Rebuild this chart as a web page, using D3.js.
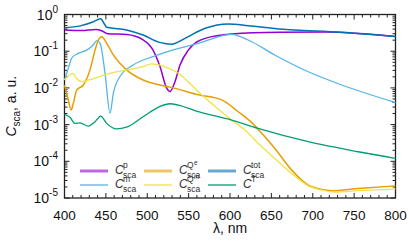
<!DOCTYPE html>
<html>
<head>
<meta charset="utf-8">
<script src="https://cdn.jsdelivr.net/npm/d3@7"></script>
<style>
  body { margin: 0; background: #fff; }
  svg { display: block; font-family: "Liberation Sans", Arial, sans-serif; }
</style>
</head>
<body>
<svg id="chart" width="409" height="245"></svg>
<script>
// wavelength (nm) and scattering cross sections
var lamP = [400, 420, 438, 445, 452, 475, 495, 507, 515.4, 523.5, 527.5, 533.5, 539.6, 549.6, 570, 602, 660, 715, 800];
var cP = [0.38, 0.365, 0.39, 0.36, 0.30, 0.285, 0.205, 0.107, 0.038, 0.0098, 0.0079, 0.0148, 0.042, 0.107, 0.224, 0.295, 0.327, 0.333, 0.251];

var lamM = [400, 404.6, 408.7, 416.7, 426.8, 435, 439, 443, 449, 455, 459, 467, 483, 507, 527.5, 561.7, 602, 622, 654, 694.6, 735, 800];
var cM = [0.0164, 0.034, 0.065, 0.087, 0.107, 0.15, 0.195, 0.164, 0.025, 0.00204, 0.0071, 0.0204, 0.042, 0.071, 0.102, 0.164, 0.288, 0.202, 0.079, 0.0275, 0.012, 0.004];

var lamQe = [400, 404.6, 408, 410.7, 414.7, 422.7, 430.8, 436.9, 440.9, 445, 451, 459, 475, 495, 515, 527.5, 561.7, 590, 610, 626, 640, 654, 674.6, 694.6, 714.8, 723, 755, 800];
var cQe = [0.012, 0.0047, 0.0025, 0.0038, 0.0087, 0.012, 0.031, 0.107, 0.202, 0.248, 0.164, 0.079, 0.031, 0.0164, 0.012, 0.0105, 0.0065, 0.0047, 0.00224, 0.00115, 0.000525, 0.000226, 0.0000575, 0.0000224, 0.0000166, 0.0000158, 0.0000182, 0.0000214];

var lamQm = [400, 410, 414.7, 420.8, 435, 455, 475, 495, 505, 521, 537.5, 561.7, 582, 602, 618, 634, 654, 674.6, 694.6, 714.8, 727, 755, 800];
var cQm = [0.0164, 0.025, 0.018, 0.0148, 0.018, 0.025, 0.031, 0.038, 0.045, 0.038, 0.025, 0.0079, 0.0031, 0.00133, 0.00071, 0.00031, 0.00012, 0.0000468, 0.0000214, 0.0000158, 0.0000145, 0.0000158, 0.0000174];

var lamTot = [400, 419, 435, 443.7, 448, 451, 475, 495, 515, 529.5, 545.6, 570, 598, 622, 660, 735, 800];
var cTot = [0.437, 0.49, 0.637, 0.769, 0.56, 0.447, 0.38, 0.275, 0.174, 0.155, 0.224, 0.42, 0.55, 0.495, 0.403, 0.327, 0.251];

var lamT = [400, 406.6, 412.7, 418.7, 428.8, 437, 443.7, 451, 463, 475, 495, 515, 527.5, 537.5, 561.7, 602, 634, 694.6, 755, 800];
var cT = [0.0019, 0.00158, 0.00108, 0.00112, 0.00091, 0.0012, 0.0017, 0.00108, 0.00076, 0.00085, 0.00164, 0.0031, 0.0037, 0.0034, 0.00224, 0.00133, 0.00079, 0.000343, 0.000182, 0.00012];

var xTicks = [400, 450, 500, 550, 600, 650, 700, 750, 800];
var yTicks = [1, 1e-1, 1e-2, 1e-3, 1e-4, 1e-5];

var series = [
    { lam: lamP, c: cP, color: '#9400d3', wide: true, sup: 'p', sub: 'sca' },
    { lam: lamM, c: cM, color: '#56b4e9', wide: false, sup: 'm', sub: 'sca' },
    { lam: lamQe, c: cQe, color: '#e69f00', wide: true, sup: 'Q', supsup: 'e', sub: 'sca' },
    { lam: lamQm, c: cQm, color: '#f0e442', wide: false, sup: 'Q', supsup: 'm', sub: 'sca' },
    { lam: lamTot, c: cTot, color: '#0072b2', wide: true, sup: 'tot', sub: 'sca' },
    { lam: lamT, c: cT, color: '#009e73', wide: false, sup: 'T', sub: '' }
];

var plotLeft = 64.5, plotRight = 395.5, plotTop = 14.5, plotBottom = 198;

var x = d3.scaleLinear().domain([400, 800]).range([plotLeft, plotRight]);
var y = d3.scaleLog().domain([1e-5, 1]).range([plotBottom, plotTop]);

var svg = d3.select('#chart');
var axisColor = '#222';

// minor + major ticks, all four sides, pointing inward
var g = svg.append('g').attr('stroke', axisColor).attr('stroke-width', 1);
d3.range(400, 801, 10).forEach(function(v) {
    var len = (v % 50 === 0) ? 5 : 3;
    g.append('line').attr('x1', x(v)).attr('x2', x(v)).attr('y1', plotBottom).attr('y2', plotBottom - len);
    g.append('line').attr('x1', x(v)).attr('x2', x(v)).attr('y1', plotTop).attr('y2', plotTop + len);
});
for (var e = -5; e < 0; e++) {
    for (var k = 1; k < 10; k++) {
        var v = k * Math.pow(10, e);
        var len = (k === 1) ? 5 : 3;
        g.append('line').attr('y1', y(v)).attr('y2', y(v)).attr('x1', plotLeft).attr('x2', plotLeft + len);
        g.append('line').attr('y1', y(v)).attr('y2', y(v)).attr('x1', plotRight).attr('x2', plotRight - len);
    }
}

svg.append('rect')
    .attr('x', plotLeft).attr('y', plotTop)
    .attr('width', plotRight - plotLeft).attr('height', plotBottom - plotTop)
    .attr('fill', 'none').attr('stroke', axisColor).attr('stroke-width', 1.3);

// tick labels
svg.selectAll('.xlab')
    .data(xTicks)
    .enter()
    .append('text')
    .attr('class', 'xlab')
    .attr('x', function(d) { return x(d); })
    .attr('y', 220)
    .attr('text-anchor', 'middle')
    .attr('font-size', 13.5)
    .attr('fill', '#111')
    .text(function(d) { return d; });

var ylab = svg.selectAll('.ylab')
    .data(yTicks)
    .enter()
    .append('text')
    .attr('class', 'ylab')
    .attr('x', 58)
    .attr('y', function(d) { return y(d) + 5; })
    .attr('text-anchor', 'end')
    .attr('font-size', 14)
    .attr('fill', '#111');
ylab.append('tspan').text('10');
ylab.append('tspan')
    .attr('dy', -7)
    .attr('font-size', 10)
    .text(function(d) { return Math.round(Math.log10(d)); });

// axis titles
svg.append('text')
    .attr('x', 230).attr('y', 233)
    .attr('text-anchor', 'middle')
    .attr('font-size', 14)
    .attr('fill', '#111')
    .text('λ, nm');

var yt = svg.append('text')
    .attr('transform', 'translate(16,' + ((plotTop + plotBottom) / 2) + ') rotate(-90)')
    .attr('text-anchor', 'middle')
    .attr('font-size', 14)
    .attr('fill', '#111');
yt.append('tspan').attr('font-style', 'italic').text('C');
yt.append('tspan').attr('dy', 4).attr('font-size', 10).text('sca');
yt.append('tspan').attr('dy', -4).text(', a. u.');

// curves
var line = d3.line()
    .x(function(d) { return x(d[0]); })
    .y(function(d) { return y(d[1]); })
    .curve(d3.curveMonotoneX);

svg.append('g')
    .selectAll('path')
    .data(series)
    .enter()
    .append('path')
    .attr('fill', 'none')
    .attr('stroke', function(d) { return d.color; })
    .attr('stroke-width', function(d) { return d.wide ? 1.5 : 1.3; })
    .attr('d', function(d) { return line(d3.zip(d.lam, d.c)); });

// legend: 3 columns, 2 rows
var legend = svg.selectAll('.legend')
    .data(series)
    .enter()
    .append('g')
    .attr('class', 'legend')
    .attr('transform', function(d, i) {
        var col = Math.floor(i / 2), row = i % 2;
        return 'translate(' + (80 + col * 64) + ',' + (171 + row * 14) + ')';
    });

legend.append('line')
    .attr('x1', 0).attr('x2', 28)
    .attr('stroke', function(d) { return d.color; })
    .attr('stroke-width', function(d) { return d.wide ? 3 : 1.3; })
    .attr('stroke-opacity', function(d) { return d.wide ? 0.6 : 1; });

legend.append('text')
    .attr('x', 35).attr('y', 3)
    .attr('font-size', 12)
    .attr('font-style', 'italic')
    .attr('fill', '#333')
    .text('C');

legend.append('text')
    .attr('x', 43).attr('y', -3)
    .attr('font-size', 8.5)
    .attr('fill', '#333')
    .text(function(d) { return d.sup; });

legend.filter(function(d) { return d.supsup; })
    .append('text')
    .attr('x', 50).attr('y', -6)
    .attr('font-size', 6.5)
    .attr('fill', '#333')
    .text(function(d) { return d.supsup; });

legend.append('text')
    .attr('x', 43).attr('y', 7)
    .attr('font-size', 8.5)
    .attr('fill', '#333')
    .text(function(d) { return d.sub; });
</script>
</body>
</html>
